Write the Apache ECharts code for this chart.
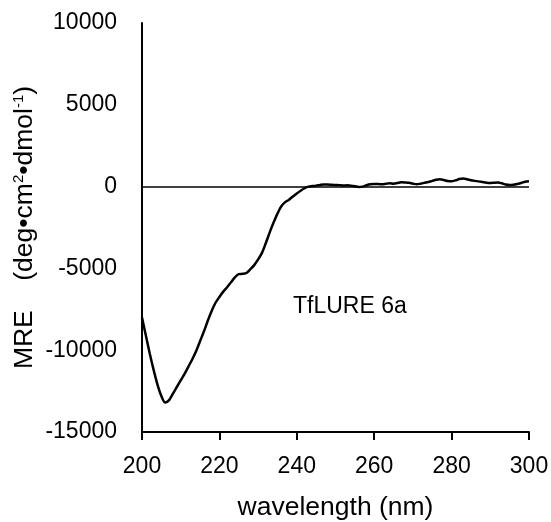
<!DOCTYPE html>
<html>
<head>
<meta charset="utf-8">
<script src="https://cdn.jsdelivr.net/npm/echarts@6/dist/echarts.min.js"></script>
<style>html,body{margin:0;padding:0;background:#fff;}#c{width:551px;height:522px;}</style>
</head>
<body>
<div id="c"></div>
<script>
const wavelengths = [200,201,202,203,204,205,206,207,208,209,210,211,212,213,214,215,216,217,218,219,220,221,222,223,224,225,226,227,228,229,230,231,232,233,234,235,236,237,238,239,240,241,242,243,244,245,246,247,248,249,250,251,252,253,254,255,256,257,258,259,260,261,262,263,264,265,266,267,268,269,270,271,272,273,274,275,276,277,278,279,280,281,282,283,284,285,286,287,288,289,290,291,292,293,294,295,296,297,298,299,300];
const mre = [-8000,-9100,-10200,-11200,-12100,-12800,-13200,-13050,-12650,-12250,-11850,-11450,-11000,-10550,-10050,-9450,-8850,-8200,-7600,-7100,-6750,-6420,-6150,-5850,-5550,-5350,-5330,-5280,-5050,-4800,-4450,-4050,-3450,-2800,-2200,-1650,-1200,-950,-800,-600,-420,-250,-100,0,30,60,100,130,130,110,100,90,60,80,60,20,-20,0,80,140,160,160,140,170,200,180,220,260,250,230,180,140,180,230,280,350,420,450,400,340,320,380,460,500,450,390,350,320,280,240,220,240,250,200,130,100,120,160,220,300,330];
const xTicks = {min: 200, max: 300, step: 20};
const yTicks = {min: -15000, max: 10000, step: 5000};
const annotation = ['TfLURE ', '6a'];

const FONT = '"Liberation Sans", Arial, sans-serif';
const chart = echarts.init(document.getElementById('c'), null, {renderer: 'canvas'});
chart.setOption({
  animation: false,
  backgroundColor: '#fff',
  grid: {left: 142, right: 22, top: 23, bottom: 90, containLabel: false, outerBoundsMode: 'none'},
  xAxis: {
    type: 'value', min: xTicks.min, max: xTicks.max, interval: xTicks.step,
    axisLine: {show: true, onZero: false, lineStyle: {color: '#000', width: 2}},
    axisTick: {show: true, inside: false, length: 8, lineStyle: {color: '#000', width: 2}},
    splitLine: {show: false},
    axisLabel: {color: '#000', fontSize: 23, fontFamily: FONT, margin: 23, formatter: v => String(v)},
    name: 'wavelength (nm)', nameLocation: 'middle', nameGap: 62, nameMoveOverlap: false,
    nameTextStyle: {color: '#000', fontSize: 26.5, fontFamily: FONT}
  },
  yAxis: {
    type: 'value', min: yTicks.min, max: yTicks.max, interval: yTicks.step,
    axisLine: {show: true, onZero: false, lineStyle: {color: '#000', width: 2}},
    axisTick: {show: false},
    splitLine: {show: false},
    axisLabel: {color: '#000', fontSize: 23, fontFamily: FONT, margin: 25, formatter: v => String(v)},
    name: '{a|MRE    (deg•cm}{s|2}{a|•dmol}{s|-1}{a|)}',
    nameLocation: 'middle', nameRotate: 90, nameGap: 104, nameMoveOverlap: false,
    nameTextStyle: {
      color: '#000', fontSize: 26.5, fontFamily: FONT,
      rich: {
        a: {color: '#000', fontSize: 26.5, fontFamily: FONT},
        s: {color: '#000', fontSize: 15, fontFamily: FONT, padding: [0, 0, 12, 0]}
      }
    }
  },
  series: [{
    type: 'line',
    data: wavelengths.map((w, i) => [w, mre[i]]),
    showSymbol: false, symbol: 'none', smooth: 0.3,
    lineStyle: {color: '#000', width: 2.5},
    markLine: {
      silent: true, symbol: 'none', label: {show: false},
      lineStyle: {color: '#000', width: 1.5, type: 'solid'},
      data: [{yAxis: 0}]
    },
    z: 3
  }],
  graphic: [{
    type: 'text', left: 293, top: 295,
    style: {
      text: '{n|' + annotation[0] + '}{b|' + annotation[1] + '}',
      rich: {
        n: {fontSize: 23, fontFamily: FONT, fill: '#000'},
        b: {fontSize: 23, fontFamily: FONT, fill: '#000'}
      }
    }
  }]
});
</script>
</body>
</html>
